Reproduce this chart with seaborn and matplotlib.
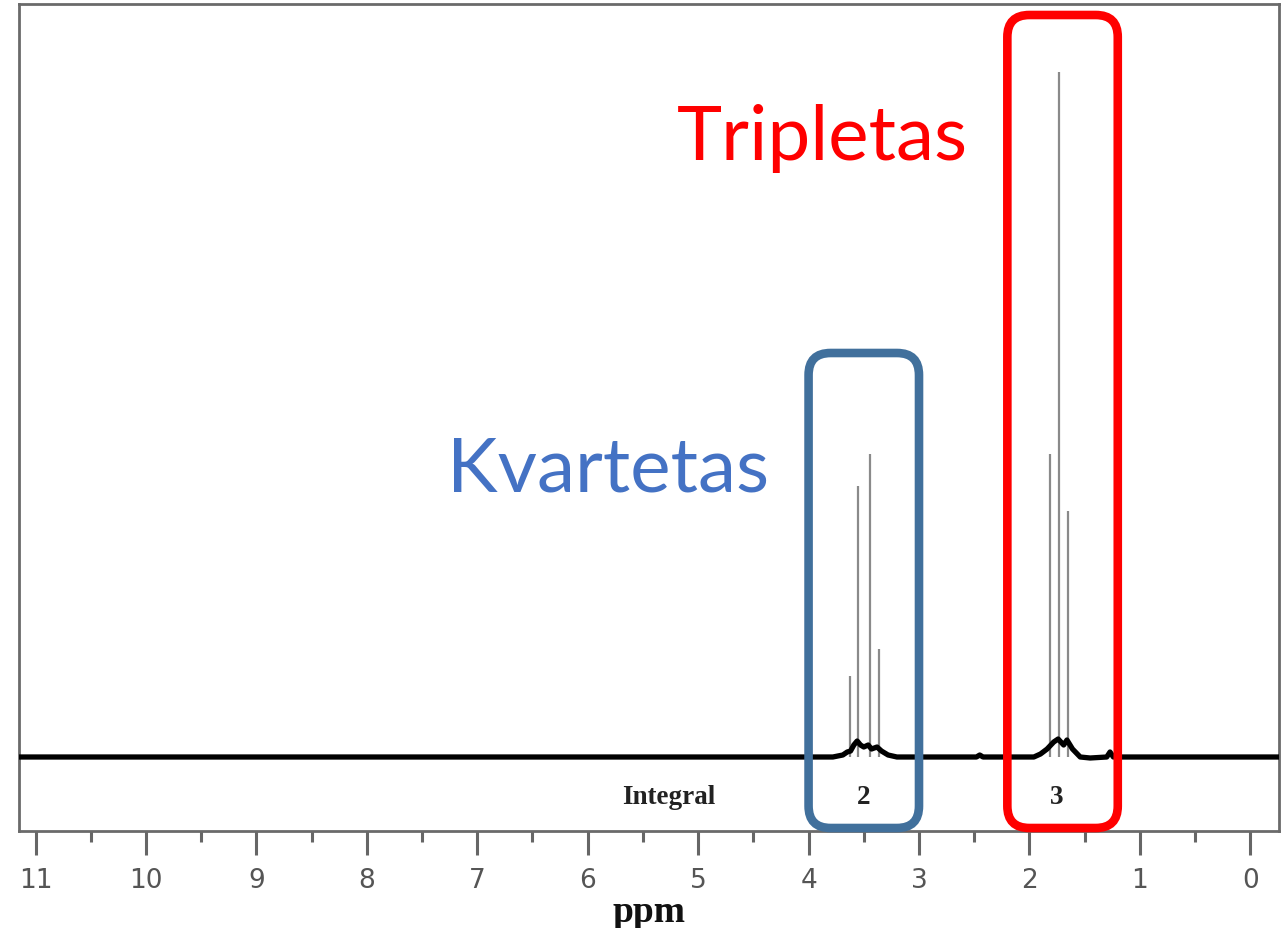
import numpy as np
import pandas as pd
import seaborn as sns
import matplotlib
matplotlib.use("Agg")
import matplotlib.pyplot as plt
from matplotlib.patches import FancyBboxPatch
from matplotlib.transforms import IdentityTransform

# ---- data ----
quartet_ppm = [3.623, 3.553, 3.448, 3.366]
quartet_int = [81, 271, 303, 108]
triplet_ppm = [1.812, 1.733, 1.655]
triplet_int = [303, 685, 246]

base_ppm = [11.15, 2.48, 2.45, 2.42, 3.78, 3.69, 3.65, 3.62, 3.59, 3.56, 3.53, 3.50, 3.46,
            3.43, 3.38, 3.34, 3.28, 3.20, 1.96, 1.90, 1.84, 1.78, 1.74, 1.69, 1.66, 1.61,
            1.54, 1.45, 1.30, 1.27, 1.24, -0.26]
base_int = [0, 0, 2, 0, 0, 2, 5, 6, 12, 16, 12, 10, 12, 8, 10, 6, 2, 0, 0, 3, 8, 15, 18,
            12, 17, 8, 0, -1, 0, 5, 0, 0]

integral_labels = ["2", "3"]
integral_pos = [3.50, 1.75]

xticks_major = list(range(0, 12))
xticks_minor = [x + 0.5 for x in range(0, 11)]

peaks = pd.DataFrame({"ppm": quartet_ppm + triplet_ppm,
                      "intensity": quartet_int + triplet_int})
base = pd.DataFrame({"ppm": base_ppm, "intensity": base_int}).sort_values("ppm")

sns.set_theme(style="white")
plt.rcParams["font.family"] = ["DejaVu Sans"]

fig = plt.figure(figsize=(12.86, 9.29), dpi=100)
ax = fig.add_axes([19/1286, 97/929, 1260/1286, 827/929])

# peaks
ax.vlines(peaks["ppm"], 0, peaks["intensity"], color="#8a8a8a", lw=1.6, zorder=2)
# baseline
sns.lineplot(data=base, x="ppm", y="intensity", ax=ax, color="black", lw=3.8,
             estimator=None, sort=True, zorder=3)

ax.set_xlim(11.15, -0.26)
ax.set_ylim(-74, 753)
ax.set_yticks([])
ax.set_xticks(xticks_major)
ax.set_xticks(xticks_minor, minor=True)
ax.set_xticklabels([str(t) for t in xticks_major])
ax.tick_params(axis="x", which="major", length=17, width=2.2, color="#666666",
               labelsize=19, labelcolor="#555555", pad=9, bottom=True)
ax.tick_params(axis="x", which="minor", length=8, width=2.2, color="#666666", bottom=True)
for s in ax.spines.values():
    s.set_color("#6a6a6a")
    s.set_linewidth(2.0)
ax.set_ylabel("")
ax.set_xlabel("ppm", fontsize=27, fontweight="bold", family="Liberation Serif",
              color="#111111", labelpad=1)

# integral labels
ax.text(5.27, -40, "Integral", ha="center", va="center", fontsize=19.5,
        fontweight="bold", family="Liberation Serif", color="#222222")
for lab, p in zip(integral_labels, integral_pos):
    ax.text(p, -40, lab, ha="center", va="center", fontsize=19.5,
            fontweight="bold", family="Liberation Serif", color="#222222")

# annotations
ax.text(3.87, 598, "Tripletas", ha="center", va="baseline", fontsize=55,
        family="Lato", color="#ff0000")
ax.text(5.82, 266, "Kvartetas", ha="center", va="baseline", fontsize=55,
        family="Lato", color="#4472c4")

fig.canvas.draw()
H = 929
def add_box(x0, x1, ytop, ybot, color):
    w = x1 - x0
    h = ybot - ytop
    p = FancyBboxPatch((x0, H - ybot), w, h,
                       boxstyle="round,pad=0,rounding_size=22",
                       fill=False, ec=color, lw=6.2, transform=IdentityTransform(),
                       clip_on=False, zorder=5)
    fig.add_artist(p)

def px(ppm):
    return ax.transData.transform((ppm, 0))[0]

add_box(px(4.00), px(3.00), 354, 829, "#41709c")
add_box(px(2.20), px(1.20), 16, 829, "#ff0000")

fig.savefig("out.png", dpi=100)
